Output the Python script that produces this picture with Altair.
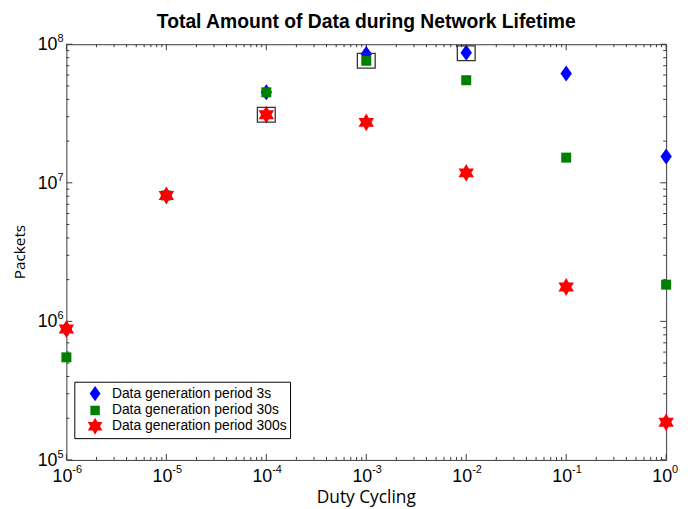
import altair as alt
import pandas as pd

# ---------------- data ----------------
duty_cycle = [1e-6, 1e-5, 1e-4, 1e-3, 1e-2, 1e-1, 1.0]
packets_3s = [8.8e5, 8.1e6, 4.5e7, 8.5e7, 8.7e7, 6.15e7, 1.55e7]
packets_30s = [5.5e5, 8.1e6, 4.5e7, 7.6e7, 5.5e7, 1.52e7, 1.84e6]
packets_300s = [8.8e5, 8.1e6, 3.1e7, 2.73e7, 1.18e7, 1.77e6, 1.87e5]
series_names = [
    "Data generation period 3s",
    "Data generation period 30s",
    "Data generation period 300s",
]
series_colors = ["#0000ff", "#008000", "#ff0000"]

highlight_x = [1e-4, 1e-3, 1e-2]
highlight_y = [3.1e7, 7.6e7, 8.6e7]

x_tick_values = [1e-6, 1e-5, 1e-4, 1e-3, 1e-2, 1e-1, 1.0]
x_tick_exponents = ["-6", "-5", "-4", "-3", "-2", "-1", "0"]
y_tick_values = [1e5, 1e6, 1e7, 1e8]
y_tick_exponents = ["5", "6", "7", "8"]
x_minor_values = [m * 10.0 ** e for e in range(-6, 0) for m in range(2, 10)]
y_minor_values = [m * 10.0 ** e for e in range(5, 8) for m in range(2, 10)]

# ---------------- tables ----------------
rows = []
for name, vals in zip(series_names, [packets_3s, packets_30s, packets_300s]):
    for d, p in zip(duty_cycle, vals):
        rows.append({"duty": d, "packets": p, "series": name})
points_df = pd.DataFrame(rows)
box_df = pd.DataFrame({"duty": highlight_x, "packets": highlight_y})
xt_df = pd.DataFrame({"duty": x_tick_values, "e": x_tick_exponents})
yt_df = pd.DataFrame({"packets": y_tick_values, "e": y_tick_exponents})
xm_df = pd.DataFrame({"duty": x_minor_values})
ym_df = pd.DataFrame({"packets": y_minor_values})

W, H = 606, 420
FONT = "Liberation Sans"
FRAME = "#3a3a3a"

x_scale = alt.Scale(type="log", domain=[1e-6, 1.0], nice=False)
y_scale = alt.Scale(type="log", domain=[1e5, 1e8], nice=False)
X = alt.X("duty:Q", scale=x_scale, axis=None)
Y = alt.Y("packets:Q", scale=y_scale, axis=None)

diamond = "M0,-0.9 L0.64,0 L0,0.9 L-0.64,0 Z"
square = "M-0.56,-0.56 L0.56,-0.56 L0.56,0.56 L-0.56,0.56 Z"
star6 = ("M0,-1 L0.2887,-0.5 L0.866,-0.5 L0.5774,0 L0.866,0.5 L0.2887,0.5 "
         "L0,1 L-0.2887,0.5 L-0.866,0.5 L-0.5774,0 L-0.866,-0.5 L-0.2887,-0.5 Z")
box_shape = "M-1,-0.83 L1,-0.83 L1,0.83 L-1,0.83 Z"

legend = alt.Legend(
    title=None, orient="none", legendX=8, legendY=341,
    strokeColor="black", fillColor="white", padding=3,
    labelFont=FONT, labelFontSize=14, labelColor="black", labelOffset=8,
    labelLimit=400, symbolOffset=9,
    symbolSize=290, symbolStrokeWidth=0, rowPadding=0, cornerRadius=0,
)

points = alt.Chart(points_df).mark_point(
    filled=True, size=324, opacity=1, strokeWidth=0
).encode(
    x=X, y=Y,
    color=alt.Color("series:N", scale=alt.Scale(domain=series_names, range=series_colors), legend=legend),
    shape=alt.Shape("series:N", scale=alt.Scale(domain=series_names, range=[diamond, square, star6]), legend=legend),
)

boxes = alt.Chart(box_df).mark_point(
    shape=box_shape, size=324, filled=False, stroke="#333333", strokeWidth=1.3, opacity=1
).encode(x=X, y=Y)

# ticks (inward, all four sides)
tick_style = dict(color=FRAME, strokeWidth=1)
x_major_b = alt.Chart(xt_df).mark_rule(**tick_style).encode(x=X, y=alt.value(H), y2=alt.value(H - 6))
x_major_t = alt.Chart(xt_df).mark_rule(**tick_style).encode(x=X, y=alt.value(0), y2=alt.value(6))
x_minor_b = alt.Chart(xm_df).mark_rule(**tick_style).encode(x=X, y=alt.value(H), y2=alt.value(H - 3))
x_minor_t = alt.Chart(xm_df).mark_rule(**tick_style).encode(x=X, y=alt.value(0), y2=alt.value(3))
y_major_l = alt.Chart(yt_df).mark_rule(**tick_style).encode(y=Y, x=alt.value(0), x2=alt.value(6))
y_major_r = alt.Chart(yt_df).mark_rule(**tick_style).encode(y=Y, x=alt.value(W), x2=alt.value(W - 6))
y_minor_l = alt.Chart(ym_df).mark_rule(**tick_style).encode(y=Y, x=alt.value(0), x2=alt.value(3))
y_minor_r = alt.Chart(ym_df).mark_rule(**tick_style).encode(y=Y, x=alt.value(W), x2=alt.value(W - 3))

# tick labels 10^n
x_lab_base = alt.Chart(xt_df).mark_text(
    align="right", baseline="alphabetic", dx=6, font=FONT, fontSize=18, color="black"
).encode(x=X, y=alt.value(H + 22), text=alt.value("10"))
x_lab_exp = alt.Chart(xt_df).mark_text(
    align="left", baseline="alphabetic", dx=6, font=FONT, fontSize=11, color="black"
).encode(x=X, y=alt.value(H + 13), text="e:N")
y_lab_base = alt.Chart(yt_df).mark_text(
    align="right", baseline="alphabetic", dy=6, font=FONT, fontSize=18, color="black"
).encode(y=Y, x=alt.value(-9), text=alt.value("10"))
y_lab_exp = alt.Chart(yt_df).mark_text(
    align="left", baseline="alphabetic", dy=-2, font=FONT, fontSize=11, color="black"
).encode(y=Y, x=alt.value(-9), text="e:N")

# axis titles
x_title = alt.Chart(pd.DataFrame({"t": ["Duty Cycling"]})).mark_text(
    align="center", baseline="alphabetic", font="Open Sans", fontSize=17.5, color="black"
).encode(x=alt.value(W / 2), y=alt.value(H + 44), text="t:N")
y_title = alt.Chart(pd.DataFrame({"t": ["Packets"]})).mark_text(
    align="center", baseline="alphabetic", font="Open Sans", fontSize=15.5, angle=270, color="black"
).encode(x=alt.value(-42), y=alt.value(H / 2), text="t:N")

chart = alt.layer(
    x_minor_b, x_minor_t, x_major_b, x_major_t,
    y_minor_l, y_minor_r, y_major_l, y_major_r,
    x_lab_base, x_lab_exp, y_lab_base, y_lab_exp,
    x_title, y_title,
    points, boxes,
).properties(
    width=W, height=H,
    autosize=alt.AutoSizeParams(type="none"),
    padding={"left": 59, "top": 34, "right": 14, "bottom": 50},
    title=alt.TitleParams(
        "Total Amount of Data during Network Lifetime",
        font=FONT, fontSize=19.5, fontWeight="bold", color="black",
        anchor="middle", offset=1,
    ),
).configure_view(stroke=FRAME, strokeWidth=1)

chart.save("out.html", embed_options={"renderer": "svg", "actions": False})
